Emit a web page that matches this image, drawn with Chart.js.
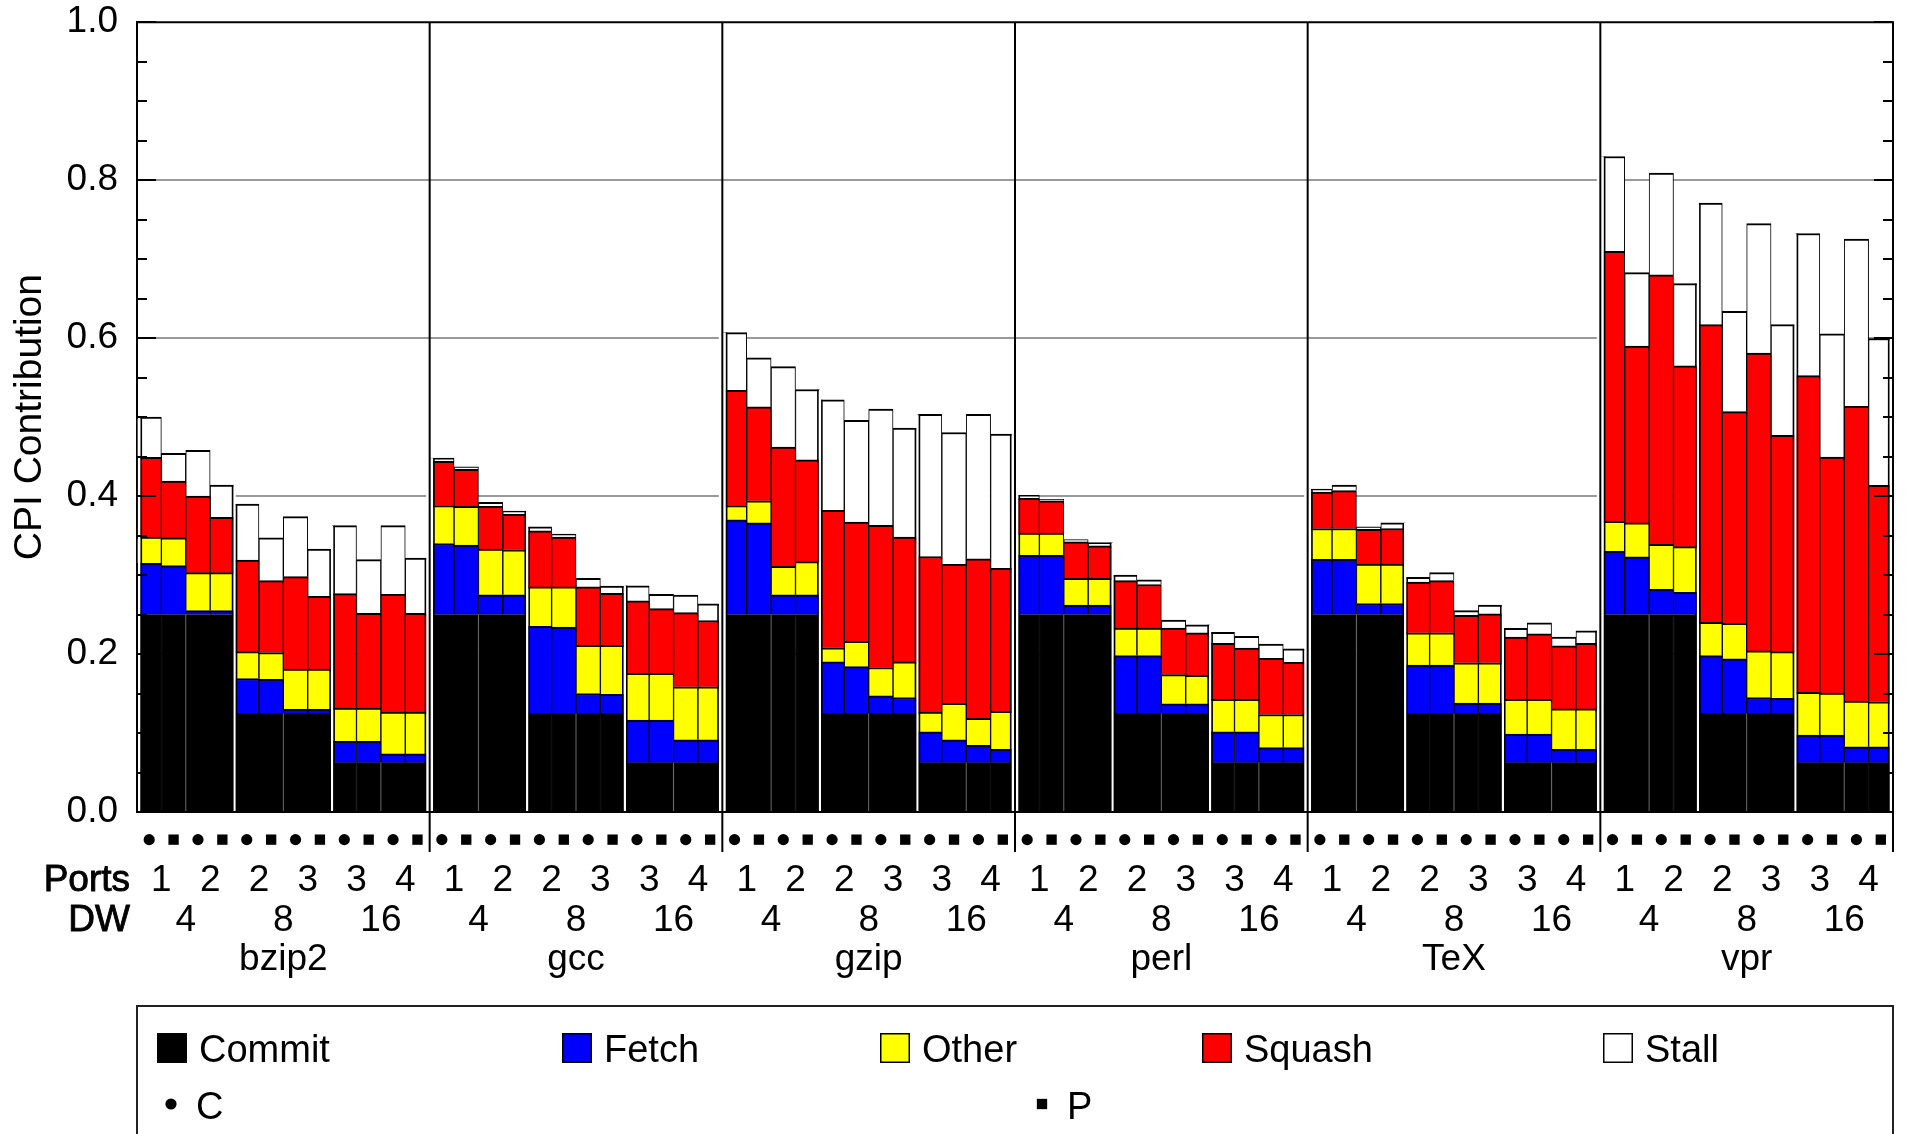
<!DOCTYPE html>
<html>
<head>
<meta charset="utf-8">
<title>CPI Contribution</title>
<script src="https://cdn.jsdelivr.net/npm/chart.js@4.4.1/dist/chart.umd.min.js"></script>
<style>
  html, body { margin: 0; padding: 0; background: #fff; }
  #wrap { width: 1906px; height: 1134px; position: relative; overflow: hidden; }
  canvas { display: block; }
</style>
</head>
<body>
<div id="wrap"><canvas id="cpi" width="1906" height="1134"></canvas></div>
<script>
// ---- Data -------------------------------------------------------------
const benchmarks = ['bzip2', 'gcc', 'gzip', 'perl', 'TeX', 'vpr'];
const dispatchWidths = [4, 8, 16];
const portCounts = [[1, 2], [2, 3], [3, 4]];   // ports per dispatch width
const modes = ['C', 'P'];

// CPI components, one value per bar (benchmark > DW > ports > mode)
const commit = [
  0.25, 0.25, 0.25, 0.25, 0.125, 0.125, 0.125, 0.125, 0.0625, 0.0625, 0.0625, 0.0625,
  0.25, 0.25, 0.25, 0.25, 0.125, 0.125, 0.125, 0.125, 0.0625, 0.0625, 0.0625, 0.0625,
  0.25, 0.25, 0.25, 0.25, 0.125, 0.125, 0.125, 0.125, 0.0625, 0.0625, 0.0625, 0.0625,
  0.25, 0.25, 0.25, 0.25, 0.125, 0.125, 0.125, 0.125, 0.0625, 0.0625, 0.0625, 0.0625,
  0.25, 0.25, 0.25, 0.25, 0.125, 0.125, 0.125, 0.125, 0.0625, 0.0625, 0.0625, 0.0625,
  0.25, 0.25, 0.25, 0.25, 0.125, 0.125, 0.125, 0.125, 0.0625, 0.0625, 0.0625, 0.0625
];
const fetchPart = [
  0.065, 0.062, 0.005, 0.005, 0.044, 0.043, 0.005, 0.005, 0.027, 0.027, 0.011, 0.011,
  0.090, 0.088, 0.025, 0.025, 0.110, 0.109, 0.025, 0.024, 0.054, 0.054, 0.029, 0.029,
  0.120, 0.116, 0.025, 0.025, 0.065, 0.059, 0.022, 0.020, 0.039, 0.029, 0.022, 0.017,
  0.075, 0.075, 0.012, 0.012, 0.073, 0.073, 0.012, 0.012, 0.039, 0.039, 0.019, 0.019,
  0.070, 0.070, 0.014, 0.014, 0.061, 0.061, 0.013, 0.013, 0.036, 0.036, 0.017, 0.017,
  0.080, 0.073, 0.032, 0.028, 0.073, 0.069, 0.020, 0.019, 0.035, 0.035, 0.020, 0.020
];
const otherPart = [
  0.033, 0.035, 0.048, 0.048, 0.034, 0.034, 0.051, 0.051, 0.042, 0.042, 0.053, 0.053,
  0.048, 0.049, 0.058, 0.057, 0.050, 0.051, 0.061, 0.062, 0.059, 0.059, 0.067, 0.067,
  0.018, 0.028, 0.036, 0.042, 0.018, 0.032, 0.036, 0.045, 0.025, 0.046, 0.034, 0.048,
  0.028, 0.028, 0.034, 0.034, 0.035, 0.035, 0.037, 0.036, 0.041, 0.041, 0.042, 0.042,
  0.039, 0.039, 0.050, 0.050, 0.041, 0.041, 0.051, 0.051, 0.044, 0.044, 0.051, 0.051,
  0.038, 0.043, 0.057, 0.058, 0.042, 0.045, 0.059, 0.059, 0.054, 0.053, 0.058, 0.057
];
const squashPart = [
  0.101, 0.072, 0.097, 0.070, 0.116, 0.091, 0.117, 0.092, 0.145, 0.120, 0.149, 0.125,
  0.056, 0.047, 0.054, 0.045, 0.071, 0.063, 0.074, 0.066, 0.092, 0.082, 0.094, 0.084,
  0.146, 0.119, 0.151, 0.129, 0.174, 0.151, 0.180, 0.158, 0.197, 0.176, 0.202, 0.181,
  0.044, 0.041, 0.046, 0.041, 0.060, 0.055, 0.059, 0.054, 0.071, 0.065, 0.071, 0.066,
  0.046, 0.048, 0.044, 0.045, 0.064, 0.066, 0.060, 0.062, 0.079, 0.083, 0.080, 0.083,
  0.342, 0.224, 0.341, 0.229, 0.377, 0.268, 0.377, 0.274, 0.401, 0.299, 0.373, 0.274
];
const stallPart = [
  0.051, 0.035, 0.058, 0.041, 0.071, 0.054, 0.076, 0.060, 0.086, 0.068, 0.087, 0.070,
  0.004, 0.003, 0.005, 0.004, 0.005, 0.004, 0.011, 0.009, 0.019, 0.018, 0.022, 0.021,
  0.073, 0.062, 0.102, 0.089, 0.140, 0.129, 0.147, 0.138, 0.180, 0.167, 0.183, 0.170,
  0.004, 0.002, 0.003, 0.004, 0.007, 0.006, 0.010, 0.010, 0.014, 0.015, 0.018, 0.017,
  0.004, 0.007, 0.003, 0.007, 0.006, 0.010, 0.006, 0.011, 0.011, 0.014, 0.011, 0.016,
  0.120, 0.093, 0.129, 0.104, 0.154, 0.127, 0.164, 0.140, 0.180, 0.156, 0.212, 0.186
];
const yTicks = [0, 0.2, 0.4, 0.6, 0.8, 1.0];

// ---- Layout / style constants ------------------------------------------
const FONT = "'Liberation Sans', Arial, Helvetica, sans-serif";
const PLOT_TOP = 22, PLOT_RIGHT_PAD = 13, Y_AXIS_W = 137, X_AXIS_H = 322;
const MARKER_ROW = -0.035;          // row of C/P symbols just under the axis
const SEP_BOTTOM = 852;             // benchmark separators run down to here
const ROW_LABEL_X = 130;
const PORTS_BASE = 891, DW_BASE = 931, BENCH_BASE = 970;
const LEGEND = {
  left: 137, top: 1006, right: 1893,
  row1Base: 1062, row2Mid: 1104, row2Base: 1119,
  swatch: 30, textGap: 42,
  columns: [157, 562, 880, 1202, 1603],
  markerColumns: [171, 1042], markerTextGap: 25
};

// ---- Category structure ------------------------------------------------
const labels = [];
const barInfo = [];
benchmarks.forEach((b, g) => {
  dispatchWidths.forEach((dw, d) => {
    portCounts[d].forEach((p, k) => {
      modes.forEach((m, mi) => {
        labels.push(`${b} DW${dw} ${p}p ${m}`);
        barInfo.push({ g, d, k, mi });
      });
    });
  });
});
const markerData = mode => barInfo.map(info => (modes[info.mi] === mode ? MARKER_ROW : null));

const segment = {
  borderColor: '#000',
  borderWidth: { top: 2, left: 1, right: 1, bottom: 0 },
  borderSkipped: 'start',
  barPercentage: 1,
  categoryPercentage: 1,
  stack: 'cpi'
};

// ---- Drawing helpers (plugin) ------------------------------------------
function vline(ctx, x, y0, y1, w, color) {
  ctx.beginPath();
  ctx.lineWidth = w;
  ctx.strokeStyle = color;
  ctx.moveTo(x, y0);
  ctx.lineTo(x, y1);
  ctx.stroke();
}
function hline(ctx, x0, x1, y, w, color) {
  ctx.beginPath();
  ctx.lineWidth = w;
  ctx.strokeStyle = color;
  ctx.moveTo(x0, y);
  ctx.lineTo(x1, y);
  ctx.stroke();
}

const cpiOverlay = {
  id: 'cpiOverlay',
  afterDatasetsDraw(chart) {
    const { ctx, chartArea: a, scales: { x, y } } = chart;
    const n = labels.length;
    const stackTop = chart.getDatasetMeta(4);
    const topAt = i => (i >= 0 && i < n ? stackTop.data[i].y : a.bottom);
    const edgeAt = i => (i <= 0 ? a.left : i >= n ? a.right
      : (x.getPixelForValue(i - 1) + x.getPixelForValue(i)) / 2);
    ctx.save();

    // dividers inside each benchmark group
    for (let i = 1; i < n; i++) {
      const prev = barInfo[i - 1], cur = barInfo[i];
      if (prev.g !== cur.g) continue;
      const bx = edgeAt(i);
      if (prev.d !== cur.d) {
        const hi = Math.min(topAt(i - 1), topAt(i));
        ctx.fillStyle = '#fff';
        ctx.fillRect(bx - 1.2, hi, 2.4, a.bottom - hi);
        vline(ctx, bx - 2, a.bottom, topAt(i - 1), 1.6, '#000');
        vline(ctx, bx + 2, a.bottom, topAt(i), 1.6, '#000');
      } else if (prev.k !== cur.k) {
        vline(ctx, bx, a.bottom, y.getPixelForValue(commit[i]), 1, '#6a6a6a');
      }
    }

    // gaps and separators between benchmarks
    for (let i = 0; i <= n; i += 0) {
      const bx = edgeAt(i);
      const hi = Math.min(topAt(i - 1), topAt(i));
      const l = Math.max(bx - 3.5, a.left + 1), r = Math.min(bx + 3.5, a.right - 1);
      ctx.fillStyle = '#fff';
      ctx.fillRect(l, hi, r - l, a.bottom - hi);
      if (i > 0) vline(ctx, l - 0.8, a.bottom, topAt(i - 1), 1.6, '#000');
      if (i < n) vline(ctx, r + 0.8, a.bottom, topAt(i), 1.6, '#000');
      if (i > 0) vline(ctx, bx, a.top, SEP_BOTTOM, 2, '#000');
      if (i >= n) break;
      let j = i + 1;
      while (j < n && barInfo[j].g === barInfo[i].g) j++;
      i = j;
    }

    // frame
    hline(ctx, a.left - 1, a.right + 1, a.top, 2, '#000');
    hline(ctx, a.left - 1, a.right + 1, a.bottom, 2, '#000');

    // inward tick marks on both sides, minor every 0.05
    for (let k = 0; k <= 20; k++) {
      const v = k * 0.05;
      const py = Math.round(y.getPixelForValue(v));
      const len = k % 4 === 0 ? 19 : 10;
      hline(ctx, a.left, a.left + len, py, 2, '#000');
      hline(ctx, a.right - len, a.right, py, 2, '#000');
    }

    // C / P symbols sit below the plot area, so they are drawn here
    const whole = { left: 0, top: 0, right: chart.width, bottom: chart.height };
    chart.data.datasets.forEach((d, di) => {
      if (d.type !== 'line') return;
      chart.getDatasetMeta(di).data.forEach(el => {
        if (!el.skip) el.draw(ctx, whole);
      });
    });
    ctx.restore();
  },
  afterDraw(chart) {
    const { ctx, scales: { x } } = chart;
    const px = i => x.getPixelForValue(i);
    ctx.save();
    ctx.fillStyle = '#000';
    ctx.strokeStyle = '#000';
    ctx.textBaseline = 'alphabetic';

    // multi-level category labels
    ctx.font = `37px ${FONT}`;
    ctx.textAlign = 'right';
    ctx.lineWidth = 0.9;
    ['Ports', 'DW'].forEach((t, r) => {
      const yb = r === 0 ? PORTS_BASE : DW_BASE;
      ctx.fillText(t, ROW_LABEL_X, yb);
      ctx.strokeText(t, ROW_LABEL_X, yb);
    });
    ctx.textAlign = 'center';
    let idx = 0;
    benchmarks.forEach(b => {
      const gStart = idx;
      dispatchWidths.forEach((dw, d) => {
        const dStart = idx;
        portCounts[d].forEach(p => {
          const c = (px(idx) + px(idx + modes.length - 1)) / 2;
          ctx.fillText(String(p), c, PORTS_BASE);
          idx += modes.length;
        });
        ctx.fillText(String(dw), (px(dStart) + px(idx - 1)) / 2, DW_BASE);
      });
      ctx.fillText(b, (px(gStart) + px(idx - 1)) / 2, BENCH_BASE);
    });

    // legend box
    ctx.lineWidth = 2;
    ctx.strokeStyle = '#222';
    ctx.beginPath();
    ctx.moveTo(LEGEND.left, chart.height + 5);
    ctx.lineTo(LEGEND.left, LEGEND.top);
    ctx.lineTo(LEGEND.right, LEGEND.top);
    ctx.lineTo(LEGEND.right, chart.height + 5);
    ctx.stroke();

    ctx.font = `38px ${FONT}`;
    ctx.textAlign = 'left';
    const ds = chart.data.datasets;
    ds.filter(d => !d.type).forEach((d, i) => {
      const cx = LEGEND.columns[i];
      const top = LEGEND.row1Base - LEGEND.swatch + 1;
      ctx.fillStyle = d.backgroundColor;
      ctx.fillRect(cx, top, LEGEND.swatch, LEGEND.swatch);
      ctx.lineWidth = 1.5;
      ctx.strokeStyle = '#000';
      ctx.strokeRect(cx + 0.75, top + 0.75, LEGEND.swatch - 1.5, LEGEND.swatch - 1.5);
      ctx.fillStyle = '#000';
      ctx.fillText(d.label, cx + LEGEND.textGap, LEGEND.row1Base);
    });
    ds.filter(d => d.type === 'line').forEach((d, i) => {
      const mx = LEGEND.markerColumns[i];
      ctx.fillStyle = '#000';
      if (d.pointStyle === 'circle') {
        ctx.beginPath();
        ctx.arc(mx, LEGEND.row2Mid, d.pointRadius, 0, Math.PI * 2);
        ctx.fill();
      } else {
        const s = d.pointRadius * Math.SQRT1_2;
        ctx.fillRect(mx - s, LEGEND.row2Mid - s, 2 * s, 2 * s);
      }
      ctx.fillText(d.label, mx + LEGEND.markerTextGap, LEGEND.row2Base);
    });
    ctx.restore();
  }
};

// ---- Chart ---------------------------------------------------------------
Chart.defaults.font.family = FONT;
Chart.defaults.color = '#000';

new Chart(document.getElementById('cpi'), {
  type: 'bar',
  data: {
    labels,
    datasets: [
      { label: 'Commit', data: commit, backgroundColor: '#000000', ...segment },
      { label: 'Fetch', data: fetchPart, backgroundColor: '#0000ff', ...segment },
      { label: 'Other', data: otherPart, backgroundColor: '#ffff00', ...segment },
      { label: 'Squash', data: squashPart, backgroundColor: '#ff0000', ...segment },
      { label: 'Stall', data: stallPart, backgroundColor: '#ffffff', ...segment },
      { type: 'line', label: 'C', data: markerData('C'), yAxisID: 'ymark', showLine: false,
        pointStyle: 'circle', pointRadius: 5.6, pointBorderWidth: 0,
        backgroundColor: '#000', borderColor: '#000', clip: false },
      { type: 'line', label: 'P', data: markerData('P'), yAxisID: 'ymark', showLine: false,
        pointStyle: 'rect', pointRadius: 7.3, pointBorderWidth: 0,
        backgroundColor: '#000', borderColor: '#000', clip: false }
    ]
  },
  options: {
    responsive: false,
    animation: false,
    devicePixelRatio: 1,
    layout: { padding: { top: PLOT_TOP, right: PLOT_RIGHT_PAD, bottom: 0, left: 0 } },
    plugins: { legend: { display: false }, tooltip: { enabled: false } },
    scales: {
      x: {
        stacked: true,
        ticks: { display: false },
        grid: { display: false, drawTicks: false },
        border: { display: false },
        afterFit: s => { s.height = X_AXIS_H; }
      },
      y: {
        stacked: true,
        min: 0,
        max: 1,
        afterBuildTicks: s => { s.ticks = yTicks.map(v => ({ value: v })); },
        ticks: {
          callback: v => Number(v).toFixed(1),
          font: { size: 37 },
          color: '#000',
          padding: 0
        },
        grid: {
          drawTicks: true,
          tickLength: 19,
          tickColor: 'rgba(0,0,0,0)',
          lineWidth: 2,
          color: c => (c.tick && c.tick.value > 0.01 && c.tick.value < 0.99) ? '#9a9a9a' : 'rgba(0,0,0,0)'
        },
        border: { display: true, color: '#000', width: 2 },
        title: {
          display: true,
          text: 'CPI Contribution',
          font: { size: 39 },
          color: '#000',
          padding: { top: 7, bottom: 0 }
        },
        afterFit: s => { s.width = Y_AXIS_W; }
      },
      ymark: { type: 'linear', display: false, min: 0, max: 1 }
    }
  },
  plugins: [cpiOverlay]
});
</script>
</body>
</html>
